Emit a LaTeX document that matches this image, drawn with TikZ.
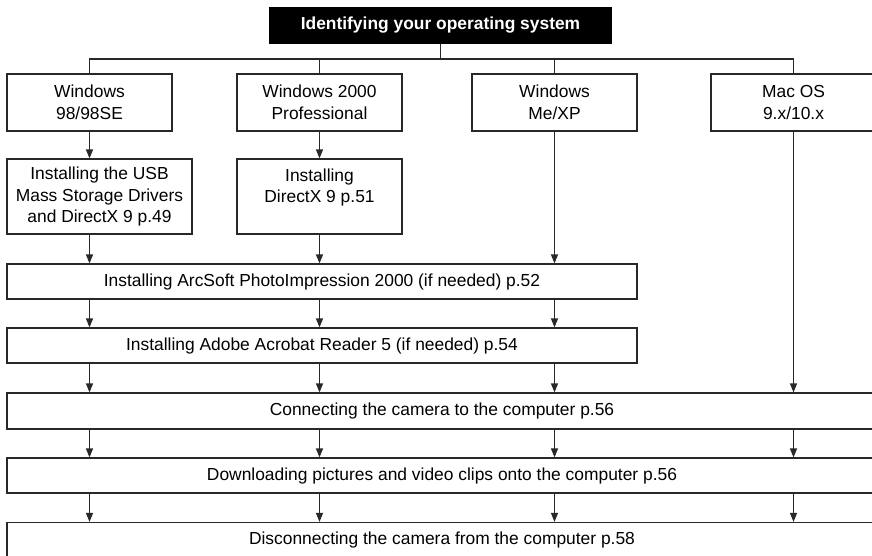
\documentclass[tikz,border=0pt]{standalone}
\usepackage{fontspec}
\setmainfont{Liberation Sans}
\usepackage{tikz}
\usetikzlibrary{arrows.meta,positioning,calc}
\usepackage{xcolor}
\definecolor{linecol}{RGB}{40,40,40}
\definecolor{tipcol}{RGB}{30,45,45}
\newcommand{\boxfont}{\fontsize{17.4}{21.6}\selectfont}

\begin{document}
\begin{tikzpicture}[x=1pt,y=-1pt,
    box/.style={draw=linecol,line width=1.2pt,inner sep=0pt,align=center,font=\boxfont},
    osbox/.style={box,minimum width=165pt,minimum height=57pt},
    wide/.style={box,minimum height=35pt},
    arr/.style={draw=linecol,line width=1.2pt,-{Triangle[length=9pt,width=7pt,fill=tipcol]}},
    link/.style={draw=linecol,line width=1.2pt}]
    \useasboundingbox (0,0) rectangle (872,555);
    \clip (0,0) rectangle (872,555);

    % Title
    \node[fill=black,minimum width=343pt,minimum height=37pt,inner sep=0pt,
          text=white,font=\boxfont\bfseries] (top) at (440.5,25.5) {Identifying your operating system};
    \coordinate (split) at (440.5,59);

    % Operating systems
    \node[osbox] (w98) at (89.5,102.5) {Windows\\98/98SE};
    \node[osbox] (w2k) at (319.5,102.5) {Windows 2000\\Professional};
    \node[osbox] (wme) at (554.5,102.5) {Windows\\Me/XP};
    \node[osbox] (mac) at (793.5,102.5) {Mac OS\\9.x/10.x};

    \draw[link] (top) -- (split);
    \draw[link] (w98.north) |- (split) -| (mac.north);
    \draw[link] (w2k.north) -- (w2k.north |- split);
    \draw[link] (wme.north) -- (wme.north |- split);

    % Drivers
    \node[box,minimum width=185pt,minimum height=75pt] (usb) at (99.5,196.5)
        {Installing the USB\\Mass Storage Drivers\\and DirectX 9 p.49};
    \node[box,minimum width=165pt,minimum height=75pt] (dx) at (319.5,196.5)
        {Installing\\DirectX 9 p.51\\\mbox{}};

    % Common steps
    \node[wide,minimum width=630pt] (arcsoft) at (322,281.5)
        {Installing ArcSoft PhotoImpression 2000 (if needed) p.52};
    \node[wide,minimum width=630pt] (acrobat) at (322,345.5)
        {Installing Adobe Acrobat Reader 5 (if needed) p.54};
    \node[wide,minimum width=870pt,minimum height=36pt] (connect) at (442,411)
        {Connecting the camera to the computer p.56};
    \node[wide,minimum width=870pt] (download) at (442,475.5)
        {Downloading pictures and video clips onto the computer p.56};
    \node[wide,minimum width=870pt] (disconnect) at (442,540)
        {Disconnecting the camera from the computer p.58};

    % Arrows
    \draw[arr] (w98) -- (usb.north -| w98);
    \draw[arr] (w2k) -- (dx.north -| w2k);
    \draw[arr] (usb.south -| w98) -- (arcsoft.north -| w98);
    \draw[arr] (dx.south -| w2k) -- (arcsoft.north -| w2k);
    \draw[arr] (wme) -- (arcsoft.north -| wme);
    \draw[arr] (mac) -- (connect.north -| mac);
    \foreach \c in {w98,w2k,wme} {
        \draw[arr] (arcsoft.south -| \c) -- (acrobat.north -| \c);
        \draw[arr] (acrobat.south -| \c) -- (connect.north -| \c);
    }
    \foreach \c in {w98,w2k,wme,mac} {
        \draw[arr] (connect.south -| \c) -- (download.north -| \c);
        \draw[arr] (download.south -| \c) -- (disconnect.north -| \c);
    }
\end{tikzpicture}
\end{document}
